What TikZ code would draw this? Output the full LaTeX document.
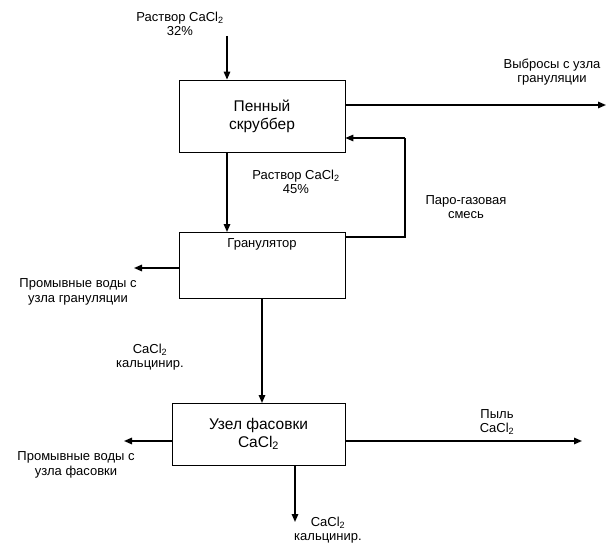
\documentclass[tikz,border=0pt]{standalone}
\usepackage{fontspec}
\setmainfont{Liberation Sans}
\usetikzlibrary{arrows.meta}
\begin{document}
\begin{tikzpicture}[x=1pt,y=-1pt,
 box/.style={draw,line width=0.8pt,minimum width=#1,inner sep=0pt,font=\fontsize{15.5}{18}\selectfont,align=center},
 lab/.style={font=\fontsize{13}{14.5}\selectfont,align=center},
 ar/.style={line width=1.5pt,-{Triangle[length=8pt,width=6.5pt]}},
 ln/.style={line width=1.5pt}]
\useasboundingbox (0,0) rectangle (616,551);
\node[box=166pt,minimum height=72pt] (b1) at (262,116) {Пенный\\скруббер};
\node[box=166pt,minimum height=66pt,anchor=north] (b2) at (262,232) {};
\node[lab] (b2t) at (262,244) {Гранулятор};
\node[box=173pt,minimum height=62pt] (b3) at (258.5,434) {Узел фасовки\\CaCl\textsubscript{2}};
\coordinate (in1) at (227,36);
\draw[ar] (in1) -- (in1 |- b1.north);
\node[lab] (l1) at (180,24) {Раствор CaCl\textsubscript{2}\\32\%};
\coordinate (o1) at (606,105);
\draw[ar] (b1.east |- o1) -- (o1);
\node[lab] (l2) at (552,72) {Выбросы с узла\\грануляции};
\draw[ar] (227,152) -- (227,232);
\node[lab] (l3) at (296,182) {Раствор CaCl\textsubscript{2}\\45\%};
\coordinate (f1) at (405,237);
\coordinate (f2) at (405,138);
\draw[ln] (b2.east |- f1) -- (f1) -- (f2);
\draw[ar] (f2) -- (b1.east |- f2);
\node[lab] (l4) at (466,207) {Паро-газовая\\смесь};
\coordinate (w1) at (134,268);
\draw[ar] (b2.west |- w1) -- (w1);
\node[lab] (l5) at (78,292) {Промывные воды с\\узла грануляции};
\draw[ar] (262,298) -- (262,403);
\node[lab] (l6) at (150,357) {CaCl\textsubscript{2}\\кальцинир.};
\coordinate (w2) at (124,441);
\draw[ar] (b3.west |- w2) -- (w2);
\node[lab] (l7) at (76,465) {Промывные воды с\\узла фасовки};
\coordinate (o2) at (582,441);
\draw[ar] (b3.east |- o2) -- (o2);
\node[lab] (l8) at (497,422) {Пыль\\CaCl\textsubscript{2}};
\coordinate (d1) at (295,522);
\draw[ar] (d1 |- b3.south) -- (d1);
\node[lab] (l9) at (328,530) {CaCl\textsubscript{2}\\кальцинир.};
\end{tikzpicture}
\end{document}
